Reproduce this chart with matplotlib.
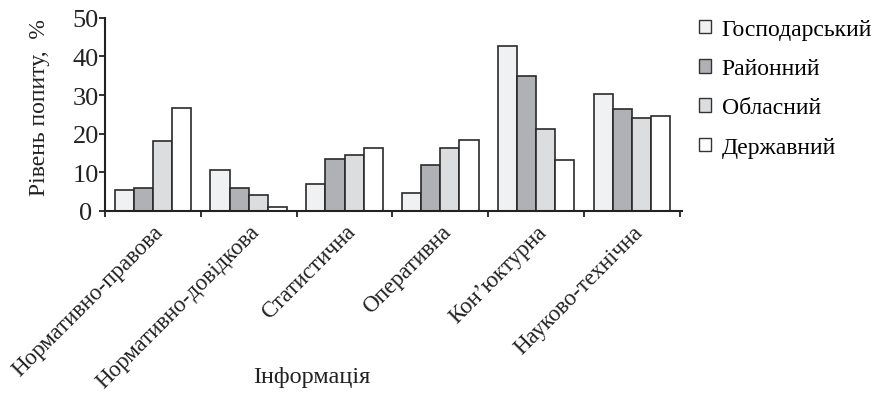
import matplotlib
matplotlib.use("Agg")
import matplotlib.pyplot as plt
import numpy as np
from matplotlib.patches import Patch

plt.rcParams['font.family'] = ['Liberation Serif', 'DejaVu Serif']

categories = ["Нормативно-правова", "Нормативно-довідкова", "Статистична",
              "Оперативна", "Кон’юктурна", "Науково-технічна"]
series_names = ["Господарський", "Районний", "Обласний", "Державний"]
gospodarskyi = [5.5, 10.6, 7.1, 4.6, 42.8, 30.4]
raionnyi = [5.9, 5.9, 13.5, 11.9, 34.9, 26.3]
oblasnyi = [18.2, 4.2, 14.5, 16.4, 21.2, 24.2]
derzhavnyi = [26.6, 1.1, 16.3, 18.3, 13.1, 24.5]
series = [gospodarskyi, raionnyi, oblasnyi, derzhavnyi]
colors = ["#f0f1f3", "#b0b1b4", "#dcdddf", "#ffffff"]
yticks = [0, 10, 20, 30, 40, 50]

fig = plt.figure(figsize=(8.82, 4.10), dpi=100)
ax = fig.add_axes([0.119, 0.483, 0.654, 0.471])

x = np.arange(len(categories))
w = 0.2
for i, (vals, c) in enumerate(zip(series, colors)):
    ax.bar(x + (i - 1.5) * w, vals, width=w, color=c, edgecolor="#2a2a2a",
           linewidth=1.2, label=series_names[i])

ax.set_xlim(-0.5, len(categories) - 0.5 + 0.02)
ax.set_ylim(0, 50)
ax.set_yticks(yticks)
ax.set_yticklabels([str(t) for t in yticks], fontsize=19, ha='center')
ax.set_xticks(np.arange(len(categories) + 1) - 0.5)
ax.set_xticklabels([])
ax.tick_params(axis='x', direction='out', length=4.5, width=1.3, colors="#222")
ax.tick_params(axis='y', direction='out', length=4.3, width=1.3, colors="#222", pad=9.5)
for t in ax.get_yticklabels():
    t.set_color("#222")
for lbl, xi in zip(categories, x):
    ax.text(xi + 0.0, -2.6, lbl, rotation=45, ha='right', va='top',
            rotation_mode='anchor', fontsize=16.5, color="#222",
            transform=ax.transData)

for s in ['top', 'right']:
    ax.spines[s].set_visible(False)
for s in ['left', 'bottom']:
    ax.spines[s].set_linewidth(1.5)
    ax.spines[s].set_color("#222")

fig.text(40 / 882, 1 - 108 / 410, "Рівень попиту,  %", fontsize=17, rotation=90,
         ha='center', va='center', color="#222")
fig.text(312 / 882, 1 - 378 / 410, "Інформація", fontsize=17.5, ha='center',
         va='center', color="#222")

handles = [Patch(facecolor=c, edgecolor="#333", linewidth=1.0) for c in colors]
fig.legend(handles, series_names, loc='upper left', bbox_to_anchor=(0.793, 0.951),
           frameon=False, fontsize=17, handlelength=0.5, handleheight=0.5,
           handletextpad=0.45, labelspacing=0.77, borderaxespad=0, borderpad=0)

fig.savefig("out.png", dpi=100)
